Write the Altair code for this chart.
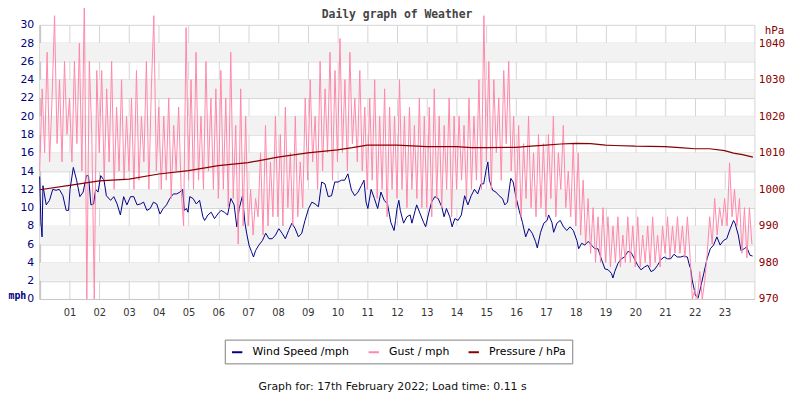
import altair as alt
import pandas as pd

# ---------------- data ----------------
wind_hour = [0.00, 0.04, 0.08, 0.11, 0.22, 0.33, 0.44, 0.55, 0.66, 0.78, 0.89, 0.97, 1.02, 1.13, 1.24, 1.35,
             1.46, 1.57, 1.64, 1.72, 1.81, 1.88, 1.96, 2.05, 2.16, 2.24, 2.38, 2.49, 2.60, 2.71, 2.82, 2.93,
             3.05, 3.16, 3.27, 3.38, 3.49, 3.60, 3.71, 3.82, 3.93, 4.04, 4.15, 4.26, 4.37, 4.49, 4.60, 4.71,
             4.80, 4.86, 4.93, 4.98, 5.04, 5.15, 5.26, 5.37, 5.48, 5.54, 5.65, 5.76, 5.87, 5.98, 6.09, 6.20,
             6.31, 6.42, 6.53, 6.62, 6.70, 6.81, 6.89, 6.95, 7.03, 7.11, 7.18, 7.25, 7.36, 7.48, 7.59, 7.70,
             7.81, 7.92, 8.03, 8.14, 8.25, 8.36, 8.47, 8.58, 8.69, 8.80, 8.91, 9.03, 9.14, 9.25, 9.36, 9.47,
             9.58, 9.69, 9.80, 9.91, 10.02, 10.13, 10.24, 10.35, 10.47, 10.58, 10.69, 10.80, 10.89, 10.96,
             11.02, 11.13, 11.24, 11.35, 11.46, 11.57, 11.68, 11.79, 11.90, 11.95, 12.00, 12.06, 12.11,
             12.22, 12.33, 12.44, 12.50, 12.61, 12.66, 12.78, 12.89, 12.96, 13.05, 13.16, 13.27, 13.38,
             13.50, 13.58, 13.66, 13.77, 13.85, 13.94, 14.05, 14.16, 14.27, 14.38, 14.49, 14.60, 14.71,
             14.82, 14.91, 14.99, 15.05, 15.10, 15.21, 15.32, 15.43, 15.54, 15.62, 15.71, 15.82, 15.90,
             15.99, 16.10, 16.21, 16.32, 16.43, 16.54, 16.65, 16.71, 16.82, 16.93, 17.04, 17.09, 17.20,
             17.26, 17.37, 17.48, 17.59, 17.70, 17.81, 17.92, 18.04, 18.10, 18.20, 18.31, 18.42, 18.53,
             18.64, 18.75, 18.86, 18.98, 19.09, 19.20, 19.25, 19.31, 19.42, 19.53, 19.64, 19.75, 19.86,
             19.97, 20.08, 20.19, 20.31, 20.42, 20.53, 20.64, 20.75, 20.86, 20.97, 21.08, 21.19, 21.30,
             21.41, 21.52, 21.63, 21.75, 21.80, 21.86, 21.91, 21.97, 22.02, 22.11, 22.19, 22.30, 22.41,
             22.52, 22.63, 22.74, 22.85, 22.96, 23.07, 23.19, 23.30, 23.35, 23.46, 23.55, 23.66, 23.74,
             23.85, 23.94]
wind_mph = [13.4, 8.5, 6.8, 12.4, 10.3, 10.8, 12.0, 11.9, 12.0, 11.3, 9.7, 9.7, 12.0, 14.4, 13.0, 11.2,
            11.7, 13.5, 13.5, 10.3, 10.4, 12.0, 11.7, 13.5, 13.0, 11.3, 10.8, 11.2, 10.4, 9.2, 11.2, 10.3,
            11.2, 11.2, 10.3, 10.4, 10.6, 9.7, 9.9, 10.6, 10.4, 9.3, 9.9, 10.3, 11.0, 11.5, 11.5, 11.7,
            12.0, 9.7, 9.9, 9.5, 11.2, 11.0, 10.4, 10.8, 9.0, 8.6, 9.2, 9.5, 8.8, 9.3, 9.7, 9.5,
            9.2, 11.0, 10.3, 7.9, 9.9, 11.3, 8.4, 7.2, 5.9, 5.2, 4.6, 5.3, 5.9, 6.4, 7.2, 6.6,
            6.6, 7.0, 7.7, 7.2, 6.6, 7.5, 8.3, 7.7, 6.8, 7.2, 8.6, 9.9, 10.6, 10.4, 10.1, 12.8,
            12.6, 11.2, 11.3, 12.8, 12.8, 13.0, 13.0, 13.7, 11.9, 11.3, 11.7, 12.4, 13.0, 10.6,
            9.9, 12.0, 11.0, 9.9, 11.7, 10.8, 10.4, 8.4, 7.5, 8.6, 9.9, 10.8, 9.7,
            8.3, 9.0, 9.2, 8.3, 9.7, 10.3, 9.3, 8.4, 7.9, 9.2, 10.6, 11.2, 11.0,
            10.1, 9.0, 9.9, 9.0, 7.9, 8.8, 8.6, 9.2, 11.3, 10.3, 11.3, 12.0, 11.5,
            12.6, 12.6, 14.1, 15.0, 13.0, 11.9, 11.7, 11.3, 11.0, 10.3, 10.6, 13.2, 12.8,
            11.2, 9.7, 8.4, 6.8, 7.7, 7.2, 6.3, 5.6, 7.3, 8.3, 8.6, 9.2, 8.4,
            7.3, 8.3, 8.6, 7.9, 7.5, 7.9, 7.5, 6.4, 5.5, 6.1, 5.9, 6.3, 5.9,
            5.5, 5.5, 4.4, 3.3, 3.2, 2.8, 2.3, 3.0, 3.9, 4.4, 4.6, 5.2, 5.1,
            4.4, 3.7, 3.2, 3.5, 3.7, 3.0, 3.2, 3.7, 4.3, 4.6, 4.4, 4.4, 4.9,
            4.6, 4.6, 4.7, 4.6, 3.9, 3.3, 2.1, 1.2, 0.4, 0.1, 1.2, 2.8, 4.4,
            5.5, 5.9, 6.8, 5.9, 6.4, 6.6, 7.7, 8.6, 8.3, 7.0, 5.3, 5.5, 5.7,
            4.8, 4.7]

# gust, one reading every 5 minutes from 00:00
gust_step_minutes = 5
gust_mph = [
    14, 23, 16, 27, 15, 22, 31, 17, 24, 15, 26, 18,
    22, 15, 26, 17, 28, 14, 33, 0, 26, 18, 0, 25,
    16, 25, 13, 23, 15, 26, 12, 21, 14, 24, 13, 20,
    14, 22, 12, 25, 13, 20, 15, 26, 12, 23, 31, 14,
    21, 12, 20, 13, 22, 11, 19, 14, 21, 12, 8, 29.7,
    13, 24, 12, 27, 13, 20, 12, 26, 14, 22, 12, 23,
    11, 25, 12, 22, 10, 27, 11, 19, 6, 23, 8, 20,
    8, 12, 7, 11, 9, 16, 7, 19, 8, 15, 9, 20,
    9, 18, 8, 21, 10, 16, 8, 20, 9, 15, 10, 22,
    13, 24, 15, 20, 12, 26, 14, 23, 16, 27, 13, 25,
    15, 28.5, 16, 24, 14, 27, 17, 22, 15, 25, 14, 21,
    12, 22, 13, 24, 11, 20, 12, 23, 9, 21, 12, 20,
    11, 24, 12, 20, 10, 21, 12, 19, 11, 22, 10, 20,
    10, 21, 9, 23, 11, 20, 10, 19, 12, 22, 9, 20,
    12, 20, 13, 19, 11, 22, 12, 20, 13, 24, 12, 31,
    15, 26, 12, 24, 16, 22, 13, 25, 17, 26, 14, 20,
    10, 19, 9, 17, 11, 20, 10, 16, 9, 18, 10, 17,
    9, 18, 11, 20, 9, 16, 12, 19, 10, 14, 9, 17,
    8, 16, 7, 13, 6, 11, 5, 10, 4, 9, 4, 10,
    4, 9, 3.5, 8, 4, 9, 3.5, 7, 4, 9, 4, 8,
    3.5, 9, 3.5, 7, 4, 8, 3.5, 9, 4, 7, 3.5, 8,
    5, 9, 4.5, 8, 5, 9, 5, 8, 4.5, 9, 5, 0,
    1, 0, 3, 0, 2, 5, 9, 6, 11, 7, 10, 8,
    11, 8, 14.9, 9, 12, 8, 11, 5, 10, 4.5, 10, 6,
]

pressure_hour = [0, 1, 2, 3, 4, 5, 6, 7, 8, 9, 10, 10.5, 11, 12, 13, 14, 14.5, 15, 16, 16.5, 17,
                 17.5, 18, 18.5, 19, 19.3, 20, 21, 21.5, 22, 22.5, 23, 23.3, 23.6, 23.95]
pressure_hpa = [999.9, 1001.1, 1002.3, 1002.8, 1004.2, 1005.1, 1006.5, 1007.3, 1008.8, 1010.0,
                1010.8, 1011.4, 1012.1, 1012.1, 1011.7, 1011.7, 1011.4, 1011.4, 1011.5, 1011.8,
                1012.1, 1012.4, 1012.6, 1012.5, 1012.1, 1012.0, 1011.8, 1011.7, 1011.4, 1011.1,
                1011.1, 1010.6, 1009.9, 1009.5, 1008.8]

band_lower = [2, 6, 10, 14, 18, 22, 26]
hour_ticks = list(range(0, 25))
mph_ticks = list(range(0, 31, 2))
hpa_ticks = [970, 980, 990, 1000, 1010, 1020, 1030, 1040]

series_names = ["Wind Speed /mph", "Gust / mph", "Pressure / hPa"]
series_colors = ["#000088", "#ff88aa", "#880000"]

TITLE = "Daily graph of Weather"
FOOT = "Graph for: 17th February 2022; Load time: 0.11 s"

# ---------------- tables ----------------
wind_df = pd.DataFrame({"h": wind_hour, "v": wind_mph, "series": series_names[0]})
gust_df = pd.DataFrame({"h": [i * gust_step_minutes / 60 for i in range(len(gust_mph))],
                        "v": gust_mph, "series": series_names[1]})
pres_df = pd.DataFrame({"h": pressure_hour, "p": pressure_hpa, "series": series_names[2]})
band_df = pd.DataFrame({"lo": band_lower, "hi": [b + 2 for b in band_lower],
                        "x0": [0] * len(band_lower), "x1": [24] * len(band_lower)})
title_df = pd.DataFrame({"t": [TITLE]})

x_axis = alt.Axis(values=hour_ticks, grid=True, gridColor="#d4d4d4", ticks=False,
                  domainColor="#c8c8c8", labelFont="DejaVu Sans", labelFontSize=10,
                  labelColor="#333333", labelPadding=9, labelOverlap=False,
                  labelExpr="datum.value >= 1 && datum.value <= 23 ? (datum.value < 10 ? '0' + datum.value : '' + datum.value) : ''",
                  title=FOOT, titleFont="DejaVu Sans", titleFontSize=11, titleFontWeight="normal",
                  titleColor="#111111", titleX=356, titleY=88, titleAlign="center", titleBaseline="middle")
x_scale = alt.Scale(domain=[0, 24], nice=False, zero=False)

y_axis = alt.Axis(values=mph_ticks, grid=True, gridColor="#d4d4d4", ticks=False,
                  domainColor="#c8c8c8", domainWidth=2, labelColor="#000080",
                  labelFont="DejaVu Sans", labelFontSize=11, labelPadding=6,
                  title="mph", titleAngle=0, titleX=-23, titleY=273, titleAlign="center",
                  titleBaseline="middle", titleFont="DejaVu Sans Mono", titleFontSize=10,
                  titleFontWeight="bold", titleColor="#000080")
y_scale = alt.Scale(domain=[0, 30], nice=False, zero=False)

color_enc = alt.Color("series:N",
                      scale=alt.Scale(domain=series_names, range=series_colors),
                      legend=alt.Legend(title=None, orient="none", legendX=187, legendY=318,
                                        direction="horizontal", strokeColor="#808080",
                                        fillColor="white", padding=6, symbolType="stroke",
                                        symbolStrokeWidth=2, symbolSize=110,
                                        labelFont="DejaVu Sans", labelFontSize=11,
                                        labelColor="#000000", labelOffset=9, columnPadding=15))

bands = alt.Chart(band_df).mark_rect(color="#f2f2f2").encode(
    x=alt.X("x0:Q", scale=x_scale, axis=x_axis),
    x2="x1:Q",
    y=alt.Y("lo:Q", scale=y_scale, axis=y_axis),
    y2="hi:Q",
)

wind = alt.Chart(wind_df).mark_line(strokeWidth=1).encode(
    x=alt.X("h:Q", scale=x_scale, axis=x_axis),
    y=alt.Y("v:Q", scale=y_scale, axis=y_axis),
    color=color_enc,
)

gust = alt.Chart(gust_df).mark_line(strokeWidth=1).encode(
    x=alt.X("h:Q", scale=x_scale, axis=x_axis),
    y=alt.Y("v:Q", scale=y_scale, axis=y_axis),
    color=color_enc,
)

title_mark = alt.Chart(title_df).mark_text(
    font="DejaVu Sans Mono", fontSize=11.5, fontWeight="bold", color="#444444",
    align="center", baseline="middle",
).encode(x=alt.value(361), y=alt.value(-10), text="t:N")

pressure = alt.Chart(pres_df).mark_line(strokeWidth=1.2).encode(
    x=alt.X("h:Q", scale=x_scale, axis=x_axis),
    y=alt.Y("p:Q", scale=alt.Scale(domain=[970, 1045], nice=False, zero=False),
            axis=alt.Axis(orient="right", values=hpa_ticks, format="d", grid=False, ticks=False,
                          domain=False, labelColor="#8b0000", labelFont="DejaVu Sans Mono",
                          labelFontSize=11, labelPadding=4, title="hPa", titleAngle=0, titleX=10,
                          titleY=6, titleAlign="left", titleBaseline="middle", titleColor="#8b0000",
                          titleFont="DejaVu Sans Mono", titleFontSize=11, titleFontWeight="normal")),
    color=color_enc,
)

left = alt.layer(bands, wind, gust, title_mark)

chart = alt.layer(left, pressure).resolve_scale(y="independent").properties(
    width=722, height=277,
    autosize=alt.AutoSizeParams(type="none"),
    padding={"left": 32, "top": 15, "right": 38, "bottom": 100},
    background="white",
).configure_view(strokeWidth=0)

chart.save("out.html", embed_options={"renderer": "svg", "actions": False})
